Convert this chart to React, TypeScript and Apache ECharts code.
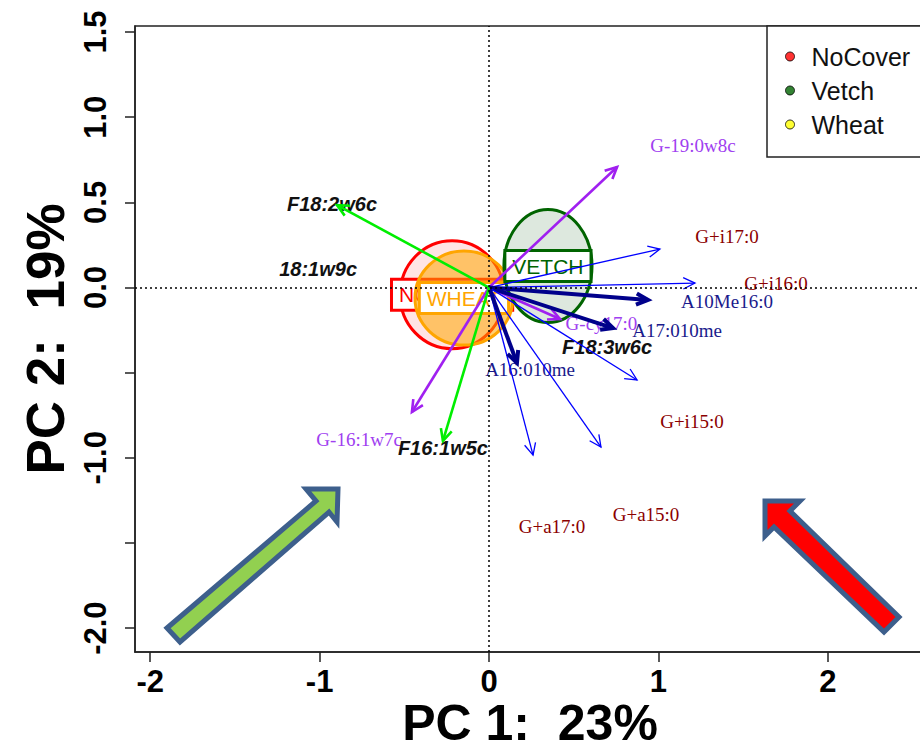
import React, { useEffect, useRef } from 'react';
import * as echarts from 'echarts';

// Legend groups
const groups = ['NoCover', 'Vetch', 'Wheat'];
const groupColors = ['#ff0000', '#006400', '#ffff00'];

// Confidence ellipses (PC1/PC2 units)
const ellipseLabels = ['NOCOVER', 'WHEAT', 'VETCH'];
const ellipseCx = [-0.218, -0.148, 0.348];
const ellipseCy = [-0.042, -0.062, 0.126];
const ellipseRx = [0.307, 0.289, 0.26];
const ellipseRy = [0.317, 0.276, 0.332];
const ellipseFill = ['#ffe4e4', 'rgba(255,165,0,0.55)', '#dde8de'];
const ellipseStroke = ['#ff0000', '#ffa500', '#006400'];

// Loading vectors (arrow tips)
const arrowNames = ['G-19:0w8c', 'G+i17:0', 'G+i16:0', 'A10Me16:0', 'G-cy17:0', 'A17:010me', 'G+i15:0', 'G+a15:0', 'G+a17:0', 'A16:010me', 'G-16:1w7c', 'F16:1w5c', 'F18:2w6c'];
const arrowX = [0.756, 1.009, 1.216, 0.939, 0.419, 0.732, 0.874, 0.661, 0.26, 0.165, -0.455, -0.272, -0.897];
const arrowY = [0.708, 0.226, 0.026, -0.073, -0.185, -0.238, -0.543, -0.937, -0.984, -0.443, -0.731, -0.901, 0.484];
const arrowKind = ['purple', 'blue', 'blue', 'navy', 'purple', 'navy', 'blue', 'blue', 'blue', 'navy', 'purple', 'green', 'green'];

// Variable labels
const labelNames = ['G-19:0w8c', 'G+i17:0', 'G+i16:0', 'A10Me16:0', 'G-cy17:0', 'A17:010me', 'F18:3w6c', 'A16:010me', 'G+i15:0', 'G+a15:0', 'G+a17:0', 'G-16:1w7c', 'F16:1w5c', 'F18:2w6c', '18:1w9c'];
const labelX = [1.204, 1.405, 1.694, 1.405, 0.664, 1.11, 0.697, 0.242, 1.198, 0.927, 0.372, -0.767, -0.272, -0.927, -1.009];
const labelY = [0.831, 0.297, 0.026, -0.085, -0.211, -0.255, -0.349, -0.484, -0.784, -1.33, -1.406, -0.895, -0.942, 0.49, 0.109];
const labelKind = ['purple', 'darkred', 'darkred', 'navy', 'purple', 'navy', 'black', 'navy', 'darkred', 'darkred', 'darkred', 'purple', 'black', 'black', 'black'];

// Axis ticks
const xTicks = [-2, -1, 0, 1, 2];
const yTicks = [-2, -1.5, -1, -0.5, 0, 0.5, 1, 1.5];
const yTickLabels = [-2, -1, 0, 0.5, 1, 1.5];

const SANS = '"Liberation Sans", Arial, sans-serif';
const SERIF = '"Liberation Serif", "Times New Roman", serif';

const arrowStyles: Record<string, { color: string; width: number; head: number }> = {
  blue: { color: '#0000ff', width: 1.3, head: 13 },
  navy: { color: '#00008b', width: 4, head: 13 },
  purple: { color: '#a020f0', width: 2.6, head: 13 },
  green: { color: '#00ee00', width: 2.6, head: 13 },
};

const labelStyles: Record<string, { color: string; font: string }> = {
  purple: { color: '#a040f0', font: `19px ${SERIF}` },
  darkred: { color: '#8b0000', font: `19px ${SERIF}` },
  navy: { color: '#1a1a8c', font: `19px ${SERIF}` },
  black: { color: '#111', font: `italic bold 20px ${SANS}` },
};

export default function App() {
  const ref = useRef<HTMLDivElement>(null);

  useEffect(() => {
    if (!ref.current) return;
    const chart = echarts.init(ref.current, null, { renderer: 'svg' });

    const option: any = {
      animation: false,
      backgroundColor: '#fff',
      grid: {
        left: 135,
        top: 26,
        right: -5,
        bottom: 100,
        outerBoundsMode: 'none',
        containLabel: false,
        show: true,
        borderColor: '#222',
        borderWidth: 1.5,
        backgroundColor: 'transparent',
      },
      legend: {
        data: groups,
        orient: 'vertical',
        left: 767,
        top: 26,
        icon: 'circle',
        itemWidth: 9,
        itemHeight: 9,
        itemGap: 9,
        itemStyle: { borderColor: '#000', borderWidth: 1 },
        padding: [18, 40, 20, 18],
        backgroundColor: '#fff',
        borderColor: '#222',
        borderWidth: 1.5,
        borderRadius: 0,
        textStyle: { color: '#111', fontSize: 25, fontFamily: SANS, padding: [0, 0, 0, 12] },
      },
      xAxis: {
        type: 'value',
        min: -2.09,
        max: 2.574,
        name: 'PC 1:  23%',
        nameLocation: 'middle',
        nameGap: 46,
        nameMoveOverlap: false,
        nameTextStyle: { fontSize: 50, fontWeight: 'bold', color: '#000', fontFamily: SANS, lineHeight: 50 },
        axisLine: { show: true, onZero: false, lineStyle: { color: '#222', width: 1.5 } },
        axisTick: { show: true, length: 10, customValues: xTicks, lineStyle: { color: '#222', width: 1.5 } },
        axisLabel: {
          customValues: xTicks,
          margin: 14,
          fontSize: 31,
          fontWeight: 'bold',
          color: '#000',
          fontFamily: SANS,
        },
        splitLine: { show: false },
      },
      yAxis: {
        type: 'value',
        min: -2.14,
        max: 1.5355,
        name: 'PC 2:  19%',
        nameLocation: 'middle',
        nameRotate: 90,
        nameGap: 62,
        nameTextStyle: { fontSize: 53, fontWeight: 'bold', color: '#000', fontFamily: SANS },
        axisLine: { show: true, onZero: false, lineStyle: { color: '#222', width: 1.5 } },
        axisTick: { show: true, length: 10, customValues: yTicks, lineStyle: { color: '#222', width: 1.5 } },
        axisLabel: {
          customValues: yTickLabels,
          rotate: 90,
          margin: 24,
          fontSize: 31,
          fontWeight: 'bold',
          color: '#000',
          fontFamily: SANS,
          formatter: (v: number) => v.toFixed(1),
        },
        splitLine: { show: false },
      },
      graphic: [
        {
          type: 'polygon',
          z: 100,
          shape: { points: [[167, 628], [316, 501], [306, 489], [338, 489], [337, 522], [329, 512], [180, 642]] },
          style: { fill: '#92d050', stroke: '#3d5f8c', lineWidth: 5 },
        },
        {
          type: 'polygon',
          z: 100,
          shape: { points: [[765, 501], [800, 501], [790, 511], [899, 617], [884, 632], [774, 527], [765, 536]] },
          style: { fill: '#ff0000', stroke: '#3d5f8c', lineWidth: 5 },
        },
      ],
      series: [
        ...groups.map((g, i) => ({
          name: g,
          type: 'scatter',
          data: [],
          itemStyle: { color: groupColors[i], borderColor: '#000', borderWidth: 1 },
        })),
        {
          name: 'refs',
          type: 'line',
          data: [],
          z: 1,
          markLine: {
            silent: true,
            symbol: ['none', 'none'],
            label: { show: false },
            lineStyle: { color: '#000', type: [2, 3], width: 1.5 },
            data: [{ xAxis: 0 }, { yAxis: 0 }],
          },
        },
        {
          name: 'ellipses',
          type: 'custom',
          z: 2,
          data: ellipseLabels.map((_, i) => [ellipseCx[i], ellipseCy[i], ellipseRx[i], ellipseRy[i]]),
          renderItem: (params: any, api: any) => {
            const i = params.dataIndex;
            const c = api.coord([api.value(0), api.value(1)]);
            const s = api.size([api.value(2), api.value(3)]);
            return {
              type: 'group',
              children: [
                {
                  type: 'ellipse',
                  shape: { cx: c[0], cy: c[1], rx: s[0], ry: s[1] },
                  style: { fill: ellipseFill[i], stroke: ellipseStroke[i], lineWidth: 3 },
                },
                {
                  type: 'text',
                  x: c[0],
                  y: c[1],
                  style: {
                    text: ellipseLabels[i],
                    fill: ellipseStroke[i],
                    font: `21px ${SANS}`,
                    align: 'center',
                    verticalAlign: 'middle',
                    backgroundColor: '#fff',
                    borderColor: ellipseStroke[i],
                    borderWidth: 3,
                    padding: [4, 6, 3, 6],
                  },
                },
              ],
            };
          },
        },
        {
          name: 'labels',
          type: 'custom',
          z: 3,
          data: labelNames.map((_, i) => [labelX[i], labelY[i]]),
          renderItem: (params: any, api: any) => {
            const i = params.dataIndex;
            const c = api.coord([api.value(0), api.value(1)]);
            const st = labelStyles[labelKind[i]];
            return {
              type: 'text',
              x: c[0],
              y: c[1],
              style: {
                text: labelNames[i],
                fill: st.color,
                font: st.font,
                align: 'center',
                verticalAlign: 'middle',
              },
            };
          },
        },
        {
          name: 'arrows',
          type: 'custom',
          z: 4,
          data: arrowNames.map((_, i) => [arrowX[i], arrowY[i]]),
          renderItem: (params: any, api: any) => {
            const i = params.dataIndex;
            const o = api.coord([0, 0]);
            const t = api.coord([api.value(0), api.value(1)]);
            const s = arrowStyles[arrowKind[i]];
            const ang = Math.atan2(t[1] - o[1], t[0] - o[0]);
            const a = Math.PI / 7;
            const p1 = [t[0] - s.head * Math.cos(ang - a), t[1] - s.head * Math.sin(ang - a)];
            const p2 = [t[0] - s.head * Math.cos(ang + a), t[1] - s.head * Math.sin(ang + a)];
            return {
              type: 'group',
              children: [
                {
                  type: 'line',
                  shape: { x1: o[0], y1: o[1], x2: t[0], y2: t[1] },
                  style: { stroke: s.color, lineWidth: s.width },
                },
                {
                  type: 'polyline',
                  shape: { points: [p1, t, p2] },
                  style: { stroke: s.color, lineWidth: s.width, fill: 'none' },
                },
              ],
            };
          },
        },
      ],
    };

    chart.setOption(option);
    return () => chart.dispose();
  }, []);

  return (
    <div
      ref={ref}
      style={{ position: 'fixed', left: 0, top: 0, width: 920, height: 752, background: '#fff' }}
    />
  );
}
